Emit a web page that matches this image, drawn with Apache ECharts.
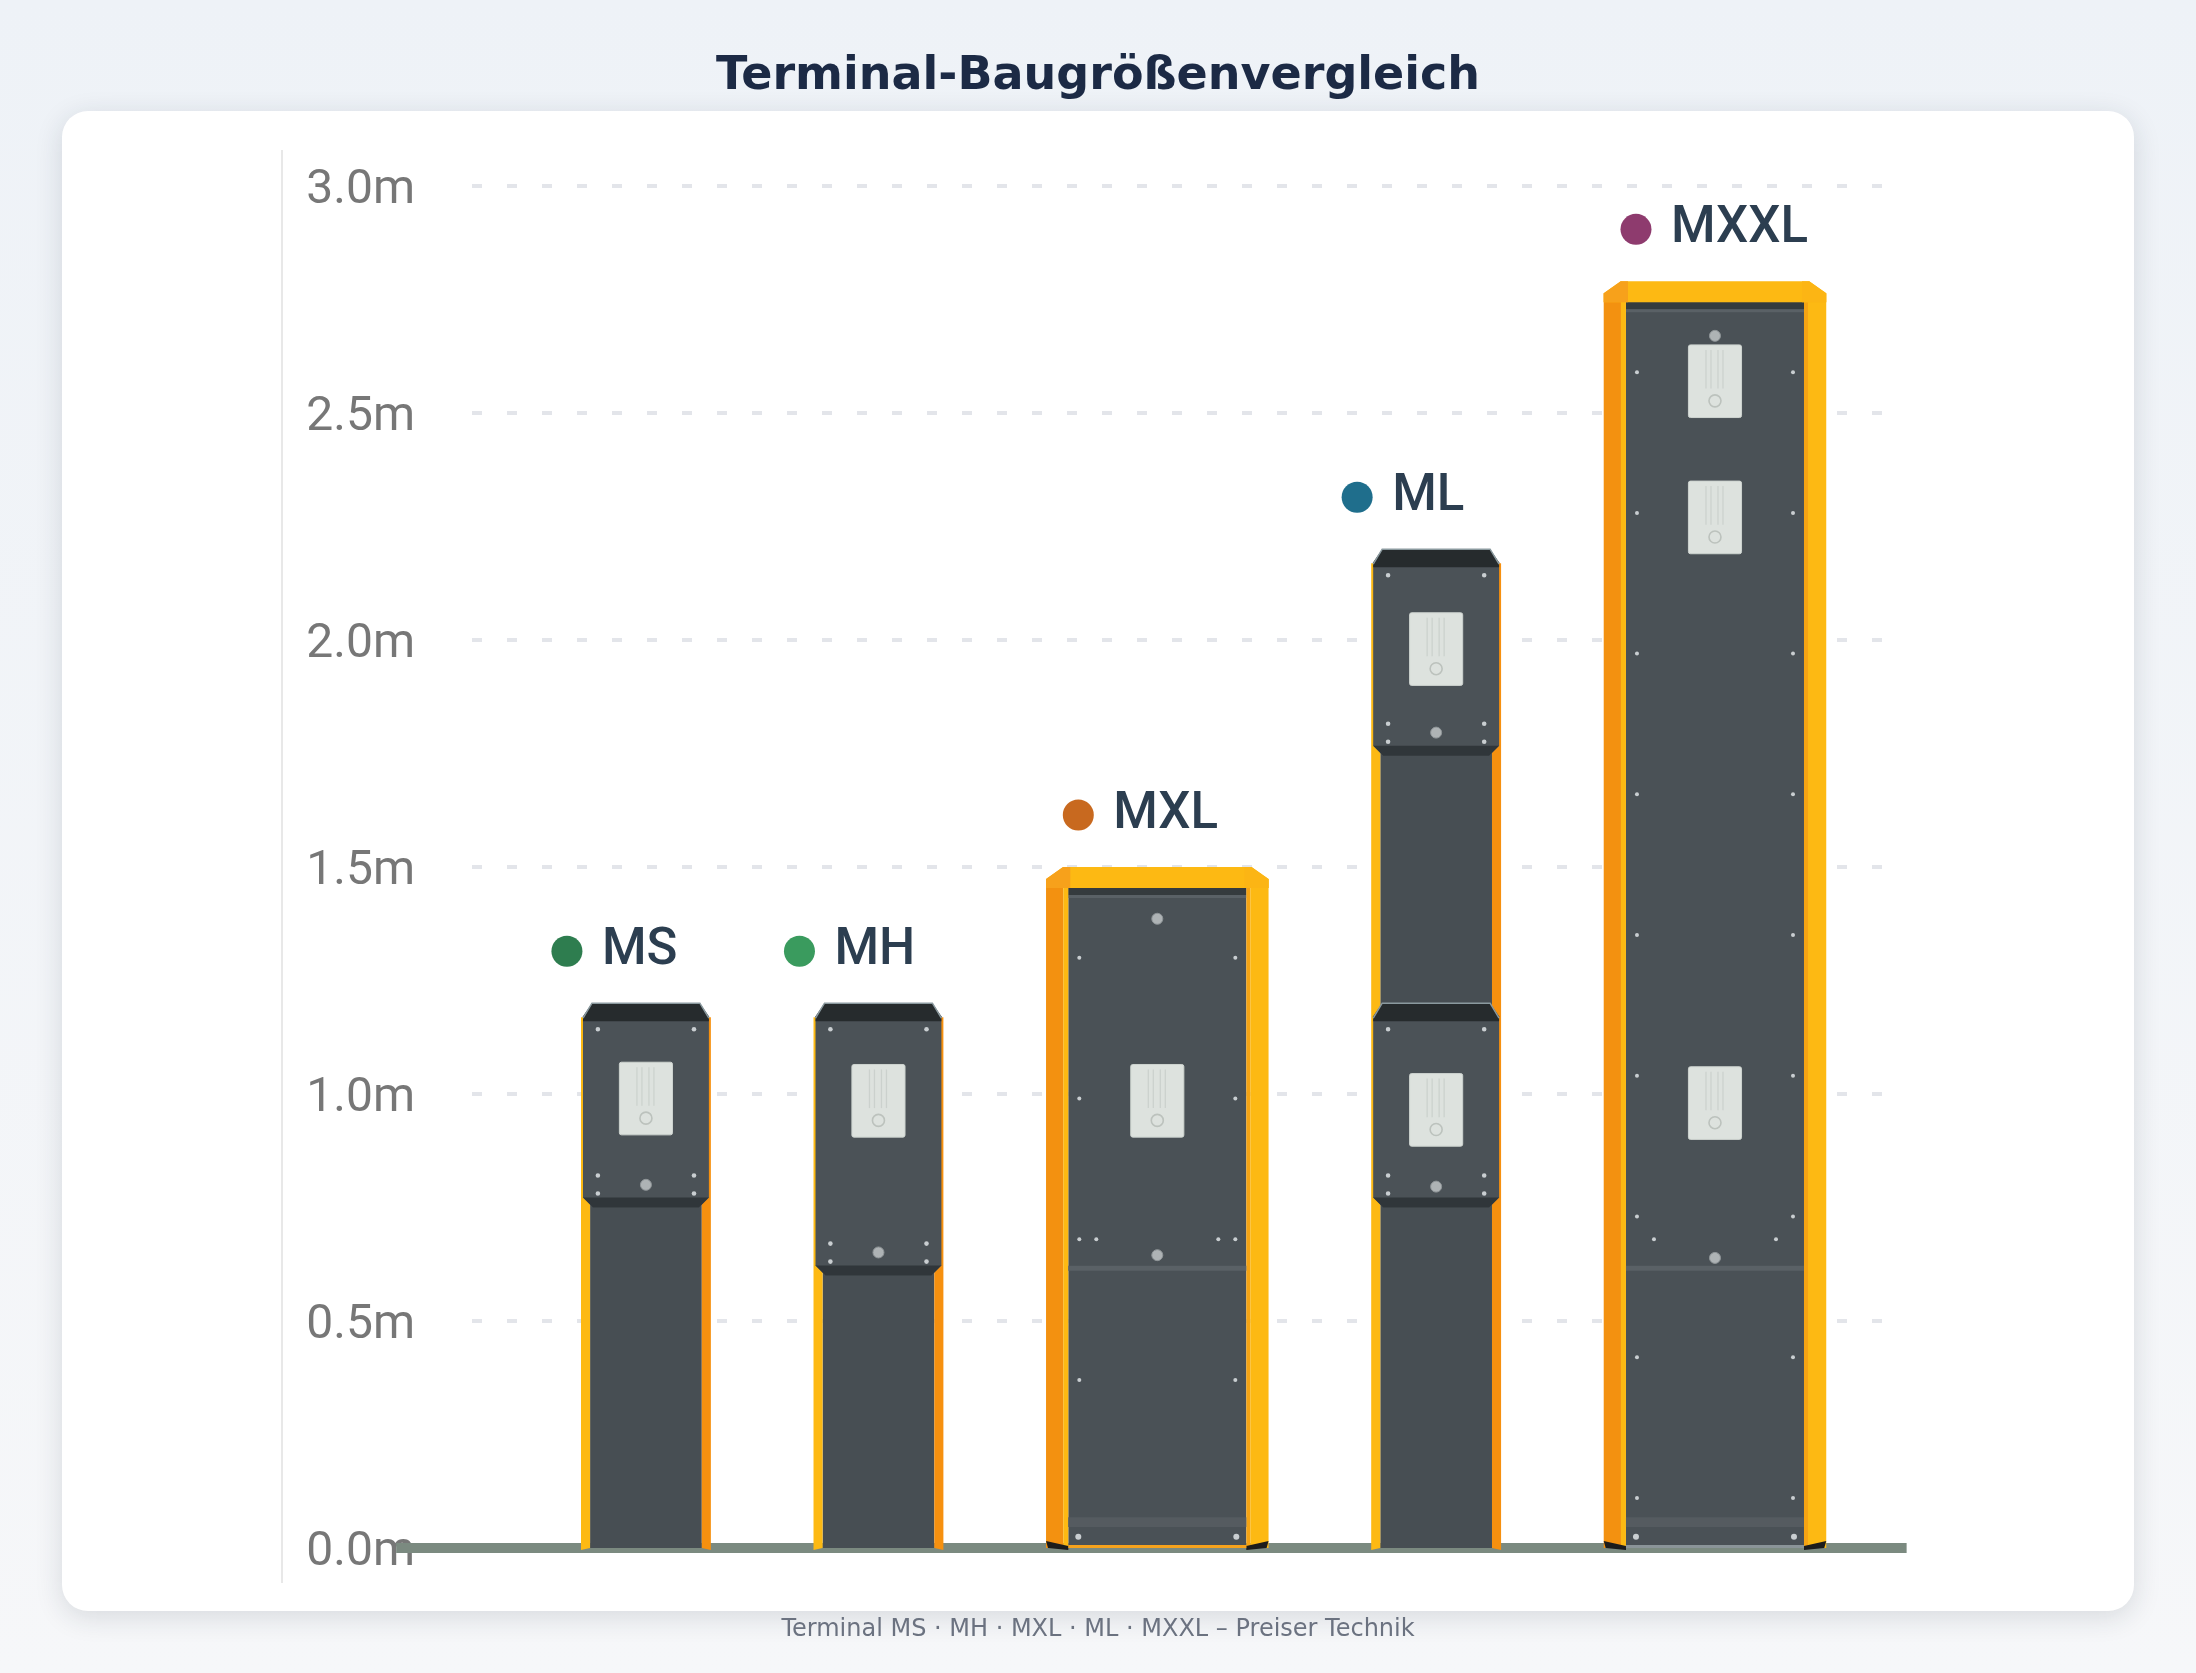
<!DOCTYPE html>
<html>
<head>
<meta charset="utf-8">
<title>Terminal-Baugrößenvergleich</title>
<script src="https://cdn.jsdelivr.net/npm/echarts/dist/echarts.min.js"></script>
<style>
  html, body { margin: 0; padding: 0; width: 2196px; height: 1673px; overflow: hidden;
    background: linear-gradient(#eef2f7, #f6f7f9); }
  #card { position: absolute; left: 62px; top: 111px; width: 2072px; height: 1500px;
    background: #fff; border-radius: 26px; box-shadow: 0 6px 28px rgba(30, 40, 60, 0.14); }
  #main { position: absolute; left: 0; top: 0; width: 2196px; height: 1673px; }
</style>
</head>
<body>
<div id="card"></div>
<div id="main"></div>
<script>
// Terminal-Baureihe: Höhe und Breite in Metern
var names = ['MS', 'MH', 'MXL', 'ML', 'MXXL'];
var heights = [1.2, 1.2, 1.5, 2.2, 2.79];
var widths = [0.286, 0.286, 0.49, 0.286, 0.49];
var dotColors = ['#2e7d4f', '#3a9b5e', '#c8691f', '#1f6e8c', '#8e3b6e'];
// Bedienmodule (Ober-/Unterkante) der schmalen Terminals
var headModules = [[[1.2, 0.75]], [[1.2, 0.6]], [], [[2.2, 1.745], [1.2, 0.75]], []];
// Displaymitte je Terminal
var screenLevels = [[0.99], [0.985], [0.985], [1.98, 0.965], [2.57, 2.27, 0.98]];
// Taster
var buttonLevels = [[0.8], [0.651], [1.386, 0.645], [1.796, 0.796], [2.67, 0.639]];
var yTickLabels = ['0.0m', '0.5m', '1.0m', '1.5m', '2.0m', '2.5m', '3.0m'];

var startX = 0.24, gapX = 0.226;

var terminalData = [];
var pos = startX;
for (var i = 0; i < names.length; i++) {
  terminalData.push([pos, pos + widths[i], heights[i], i]);
  pos += widths[i] + gapX;
}

function screw(x, y, r) {
  return { type: 'circle', shape: { cx: x, cy: y, r: r || 2.3 }, style: { fill: '#c9ced1' } };
}

function screen(cx, cy, k) {
  var sw = 0.117 * k, sh = 0.16 * k;
  var x = cx - sw / 2, y = cy - sh / 2;
  var out = [{ type: 'rect', shape: { x: x, y: y, width: sw, height: sh, r: 2 },
    style: { fill: '#dde2de', stroke: '#cdd3cf', lineWidth: 1 } }];
  [-9, -4, 3, 8].forEach(function (d) {
    out.push({ type: 'line', shape: { x1: cx + d, y1: y + 5, x2: cx + d, y2: y + sh * 0.6 },
      style: { stroke: 'rgba(140,150,145,0.22)', lineWidth: 1.2 } });
  });
  out.push({ type: 'circle', shape: { cx: cx, cy: y + sh * 0.77, r: 6 },
    style: { fill: 'none', stroke: '#bcc2bd', lineWidth: 1.6 } });
  return out;
}

function button(cx, cy) {
  return { type: 'circle', shape: { cx: cx, cy: cy, r: 5.5 },
    style: { fill: '#aeb3b5', stroke: '#8f9598', lineWidth: 1 } };
}

function renderTerminal(params, api) {
  var idx = api.value(3);
  var h = api.value(2);
  var pTL = api.coord([api.value(0), h]);
  var pBR = api.coord([api.value(1), 0]);
  var L = pTL[0], T = pTL[1], R = pBR[0], B = pBR[1];
  var w = R - L, cx = (L + R) / 2;
  var k = api.size([1, 1])[1];
  var Y = function (m) { return B - m * k; };
  var c = [];
  var wide = api.value(1) - api.value(0) > 0.4;

  if (!wide) {
    var s = w * 0.07;
    c.push({ type: 'rect', shape: { x: L + s, y: T + 10, width: w - 2 * s, height: B - T - 10 }, style: { fill: '#474e53' } });
    c.push({ type: 'polygon', shape: { points: [[L, T + 14], [L + s, T + 14], [L + s, B], [L, B + 2]] }, style: { fill: '#fdb913' } });
    c.push({ type: 'polygon', shape: { points: [[R - s, T + 14], [R, T + 14], [R, B + 2], [R - s, B]] }, style: { fill: '#f6900f' } });
    headModules[idx].forEach(function (mod) {
      var hT = Y(mod[0]), hB = Y(mod[1]);
      c.push({ type: 'polygon', shape: { points: [[L + 2, hT + 16], [R - 2, hT + 16], [R - 2, hB - 10], [R - 12, hB], [L + 12, hB], [L + 2, hB - 10]] }, style: { fill: '#4b5257' } });
      c.push({ type: 'polygon', shape: { points: [[L + 2, hB - 10], [R - 2, hB - 10], [R - 12, hB], [L + 12, hB]] }, style: { fill: '#30363a' } });
      c.push({ type: 'polygon', shape: { points: [[L + 11, hT], [R - 11, hT], [R - 2, hT + 13], [R - 2, hT + 18], [L + 2, hT + 18], [L + 2, hT + 13]] }, style: { fill: '#262b2d' } });
      c.push({ type: 'polyline', shape: { points: [[L + 2, hT + 15], [L + 11, hT], [R - 11, hT], [R - 2, hT + 15]] }, style: { stroke: '#8b9a9f', lineWidth: 1.5, fill: 'none' } });
      c.push(screw(L + 0.13 * w, hT + 26), screw(R - 0.13 * w, hT + 26));
      c.push(screw(L + 0.13 * w, hB - 32), screw(R - 0.13 * w, hB - 32));
      c.push(screw(L + 0.13 * w, hB - 14), screw(R - 0.13 * w, hB - 14));
    });
  } else {
    var fw = w * 0.1;
    c.push({ type: 'rect', shape: { x: L + fw, y: T + 20, width: w - 2 * fw, height: B - T - 20 }, style: { fill: '#4a5156' } });
    c.push({ type: 'rect', shape: { x: L + fw, y: T + 21, width: w - 2 * fw, height: 7 }, style: { fill: '#353b3e' } });
    c.push({ type: 'rect', shape: { x: L + fw, y: T + 28, width: w - 2 * fw, height: 3 }, style: { fill: '#5a6166' } });
    // Seitenrahmen
    c.push({ type: 'rect', shape: { x: L, y: T + 12, width: fw - 5, height: B - T - 12 }, style: { fill: '#f39110' } });
    c.push({ type: 'rect', shape: { x: L + fw - 5, y: T + 12, width: 5, height: B - T - 12 }, style: { fill: '#fdb913' } });
    c.push({ type: 'rect', shape: { x: R - fw, y: T + 12, width: 4, height: B - T - 12 }, style: { fill: '#f5a313' } });
    c.push({ type: 'rect', shape: { x: R - fw + 4, y: T + 12, width: fw - 4, height: B - T - 12 }, style: { fill: '#fdb913' } });
    // Dachkappe
    c.push({ type: 'polygon', shape: { points: [[L + 17, T], [R - 17, T], [R, T + 12], [R, T + 21], [L, T + 21], [L, T + 12]] }, style: { fill: '#fdb913' } });
    c.push({ type: 'polygon', shape: { points: [[L + 17, T], [L + fw + 2, T], [L + fw + 2, T + 21], [L, T + 21], [L, T + 12]] }, style: { fill: '#f7a11b' } });
    c.push({ type: 'polygon', shape: { points: [[R - fw - 2, T], [R - 17, T], [R, T + 12], [R, T + 21], [R - fw - 2, T + 21]] }, style: { fill: '#fcb514' } });
    // Trennlinie und Sockelband
    c.push({ type: 'rect', shape: { x: L + fw, y: Y(0.615) - 3, width: w - 2 * fw, height: 5 }, style: { fill: '#5a6166' } });
    c.push({ type: 'rect', shape: { x: L + fw, y: Y(0.068), width: w - 2 * fw, height: 0.022 * k }, style: { fill: '#555b60' } });
    c.push(screw(L + fw + 10, Y(0.025), 3), screw(R - fw - 10, Y(0.025), 3));
    for (var m = h - 0.2; m > 0.1; m -= 0.31) {
      c.push(screw(L + fw + 11, Y(m), 2), screw(R - fw - 11, Y(m), 2));
    }
    c.push(screw(L + fw + 28, Y(0.68), 2), screw(R - fw - 28, Y(0.68), 2));
    // Füße
    c.push({ type: 'polygon', shape: { points: [[L, B - 7], [L + fw, B - 2], [L + fw, B + 2], [L + 2, B]] }, style: { fill: '#1c1c1c' } });
    c.push({ type: 'polygon', shape: { points: [[R - fw, B - 2], [R, B - 7], [R - 2, B], [R - fw, B + 2]] }, style: { fill: '#1c1c1c' } });
    c.push({ type: 'rect', shape: { x: L + fw, y: B - 3, width: w - 2 * fw, height: 3 }, style: { fill: idx === 2 ? '#f6a21c' : '#8a9498' } });
  }

  screenLevels[idx].forEach(function (lv) { c = c.concat(screen(cx, Y(lv), k)); });
  buttonLevels[idx].forEach(function (lv) { c.push(button(cx, Y(lv))); });

  // Beschriftung
  c.push({ type: 'circle', shape: { cx: cx - 79, cy: T - 52, r: 15.5 }, style: { fill: dotColors[idx] } });
  c.push({ type: 'text', style: { text: names[idx], x: cx - 44, y: T - 52, fill: '#2c3e50',
    font: '500 51px Roboto', align: 'left', verticalAlign: 'middle' } });

  return { type: 'group', children: c };
}

function renderGround(params, api) {
  var p0 = api.coord([api.value(0), 0]);
  var p1 = api.coord([api.value(1), 0]);
  return { type: 'rect', shape: { x: p0[0], y: p0[1] - 5, width: p1[0] - p0[0], height: 10 },
    style: { fill: '#7b8a80' } };
}

var chart = echarts.init(document.getElementById('main'));
var option = {
  backgroundColor: 'transparent',
  animation: false,
  title: {
    text: 'Terminal-Baugrößenvergleich',
    left: 'center',
    top: 49,
    textStyle: { fontFamily: 'DejaVu Sans', fontSize: 46, fontWeight: 'bold', color: '#1c2a45' }
  },
  graphic: [
    { type: 'line', shape: { x1: 282, y1: 150, x2: 282, y2: 1583 }, style: { stroke: '#e8e8e8', lineWidth: 2 } },
    { type: 'text', left: 'center', top: 1618,
      style: { text: 'Terminal MS · MH · MXL · ML · MXXL – Preiser Technik', fill: '#6b7280',
        font: '24px "DejaVu Sans"' } }
  ],
  grid: { left: 472, right: 298, top: 186, bottom: 125 },
  xAxis: { type: 'value', min: 0, max: 3.14, show: false },
  yAxis: {
    type: 'value', min: 0, max: 3, interval: 0.5,
    axisLine: { show: false }, axisTick: { show: false },
    axisLabel: {
      margin: 57,
      formatter: function (v, i) { return '{t|' + yTickLabels[i] + '}'; },
      rich: { t: { color: '#777777', fontFamily: 'Roboto', fontSize: 48, padding: [10, 0, 0, 0] } }
    },
    splitLine: { lineStyle: { color: '#e3e5ea', width: 4, type: [10, 25] } }
  },
  series: [
    { type: 'custom', z: 1, renderItem: renderGround, data: [[-0.167, 3.159]], silent: true },
    { type: 'custom', z: 3, renderItem: renderTerminal, data: terminalData, encode: { x: [0, 1], y: 2 } }
  ]
};
chart.setOption(option);
</script>
</body>
</html>
